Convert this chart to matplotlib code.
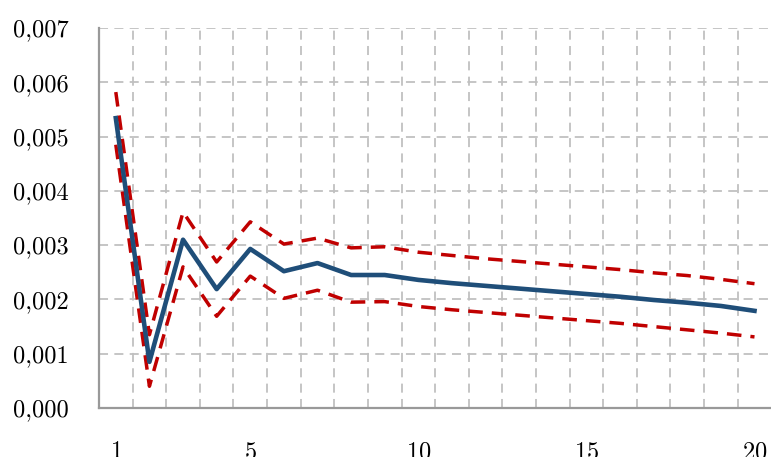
import numpy as np
import matplotlib
matplotlib.use("Agg")
import matplotlib.pyplot as plt
from matplotlib.ticker import FixedLocator, FuncFormatter

plt.rcParams["font.family"] = "cmr10"
plt.rcParams["axes.formatter.use_mathtext"] = True

# Data
periods = list(range(1, 21))
central = [0.00534, 0.00085, 0.00310, 0.00219, 0.00293, 0.00252, 0.00267, 0.00245, 0.00245, 0.00236,
           0.00230, 0.00225, 0.00220, 0.00215, 0.00210, 0.00205, 0.00199, 0.00194, 0.00188, 0.00179]
upper = [0.00582, 0.00135, 0.00361, 0.00269, 0.00343, 0.00302, 0.00313, 0.00295, 0.00297, 0.00287,
         0.00281, 0.00275, 0.00270, 0.00265, 0.00260, 0.00255, 0.00249, 0.00244, 0.00237, 0.00229]
lower = [0.00485, 0.00040, 0.00260, 0.00169, 0.00243, 0.00202, 0.00217, 0.00195, 0.00196, 0.00187,
         0.00181, 0.00176, 0.00171, 0.00166, 0.00161, 0.00156, 0.00150, 0.00144, 0.00138, 0.00131]
xtick_labels = [1, 5, 10, 15, 20]

fig = plt.figure(figsize=(7.71, 4.57), dpi=100)
ax = fig.add_axes([0.1284, 0.1072, 0.872, 0.8315])

ax.plot(periods, upper, color="#C00000", lw=2.5, dashes=(4.2, 2.6), zorder=3)
ax.plot(periods, lower, color="#C00000", lw=2.5, dashes=(4.2, 2.6), zorder=3)
ax.plot(periods, central, color="#1F4E79", lw=3.3, zorder=4)

ax.set_xlim(0.5, 20.5)
ax.set_ylim(0, 0.007)
ax.set_yticks(np.arange(0, 0.0071, 0.001))
ax.yaxis.set_major_formatter(FuncFormatter(lambda v, p: f"{v:.3f}".replace(".", ",")))
ax.set_xticks(xtick_labels)
ax.xaxis.set_minor_locator(FixedLocator(np.arange(1.5, 20.5, 1)))

ax.tick_params(axis="both", which="both", length=0, labelsize=17.5)
ax.tick_params(axis="x", pad=24)
ax.tick_params(axis="y", pad=22)

ax.grid(axis="y", which="major", color="#c0c0c0", lw=1.3, dashes=(5, 3.5))
ax.grid(axis="x", which="minor", color="#c0c0c0", lw=1.3, dashes=(5, 3.5))
ax.grid(axis="x", which="major", visible=False)

for s in ["top", "right"]:
    ax.spines[s].set_visible(False)
for s in ["left", "bottom"]:
    ax.spines[s].set_color("#999999")
    ax.spines[s].set_linewidth(1.6)

fig.savefig("out.png", dpi=100)
